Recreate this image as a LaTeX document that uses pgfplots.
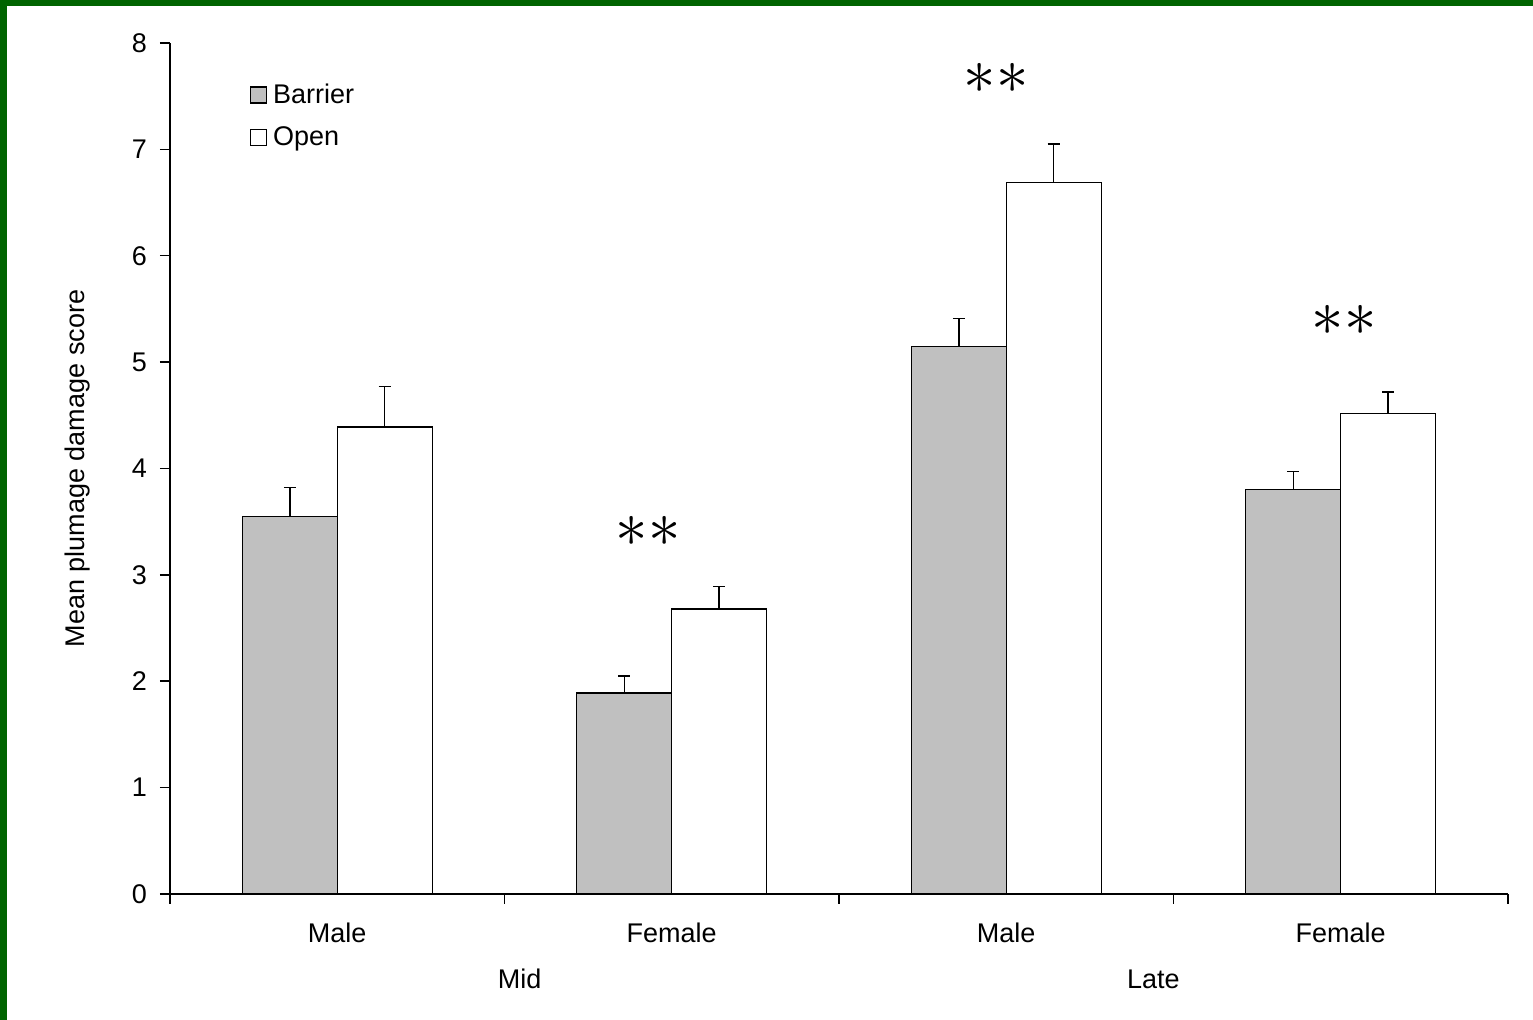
\documentclass[border=0pt]{standalone}
\usepackage{pgfplots}
\pgfplotsset{compat=1.18}
\usepackage{fontspec}
\setmainfont{Liberation Sans}
\definecolor{dgreen}{RGB}{0,100,0}
\definecolor{bargray}{RGB}{192,192,192}
\begin{document}
\begin{tikzpicture}[x=1pt,y=1pt]
\fill[white] (0pt,0pt) rectangle (766.5pt,510pt);
\useasboundingbox (0pt,0pt) rectangle (766.5pt,510pt);
\begin{axis}[
  at={(85pt,63pt)}, anchor=south west,
  scale only axis, width=669pt, height=425.5pt,
  xmin=-0.5, xmax=3.5, ymin=0, ymax=8,
  axis lines*=left,
  axis line style={line width=0.75pt, black},
  clip=false,
  font=\fontsize{13.5}{15}\selectfont,
  /pgf/number format/assume math mode=true,
  tick align=outside,
  major tick length=5pt,
  ytick={0,1,...,8},
  ytick style={line width=0.75pt, black},
  yticklabel style={xshift=-3pt},
  xtick={0,1,2,3},
  xticklabels={Male,Female,Male,Female},
  xtick style={draw=none},
  xticklabel style={yshift=-6pt},
  extra x ticks={-0.5,0.5,1.5,2.5,3.5},
  extra x tick labels={},
  extra x tick style={xtick style={draw=black, line width=0.75pt}},
  every axis y label/.style={at={(axis description cs:-0.0688,0.5)}, rotate=90, anchor=center},
  ylabel={Mean plumage damage score},
  legend style={draw=none, fill=none, at={(0.055,0.962)}, anchor=north west,
    font=\fontsize{13.5}{15}\selectfont, row sep=6pt,
    legend cell align=left},
  legend image code/.code={\draw[#1, line width=0.6pt] (0pt,-4pt) rectangle (8pt,4pt); \path (9pt,0pt);},
]
\addplot[ybar, bar width=0.284, bar shift=0pt, fill=bargray, draw=black, line width=0.6pt,
  error bars/.cd, y dir=plus, y explicit,
  error bar style={line width=0.75pt, black},
  error mark options={rotate=90, mark size=3pt, line width=0.75pt, black}]
  coordinates {(-0.142,3.55) +- (0,0.27) (0.858,1.89) +- (0,0.16) (1.858,5.15) +- (0,0.26) (2.858,3.80) +- (0,0.17)};
\addlegendentry{Barrier}
\addplot[ybar, bar width=0.284, bar shift=0pt, fill=white, draw=black, line width=0.6pt,
  error bars/.cd, y dir=plus, y explicit,
  error bar style={line width=0.75pt, black},
  error mark options={rotate=90, mark size=3pt, line width=0.75pt, black}]
  coordinates {(0.142,4.39) +- (0,0.38) (1.142,2.68) +- (0,0.21) (2.142,6.69) +- (0,0.36) (3.142,4.52) +- (0,0.20)};
\addlegendentry{Open}
\node[scale=1.3] at (axis cs:0.93,3.41) {\fontsize{24}{24}\selectfont$\ast\ast$};
\node[scale=1.3] at (axis cs:1.97,7.67) {\fontsize{24}{24}\selectfont$\ast\ast$};
\node[scale=1.3] at (axis cs:3.01,5.39) {\fontsize{24}{24}\selectfont$\ast\ast$};
\node[yshift=-42.5pt] at (axis cs:0.545,0) {Mid};
\node[yshift=-42.5pt] at (axis cs:2.44,0) {Late};
\end{axis}
\fill[dgreen] (0pt,0pt) rectangle (3.5pt,510pt);
\fill[dgreen] (0pt,507pt) rectangle (766.5pt,510pt);
\end{tikzpicture}
\end{document}
